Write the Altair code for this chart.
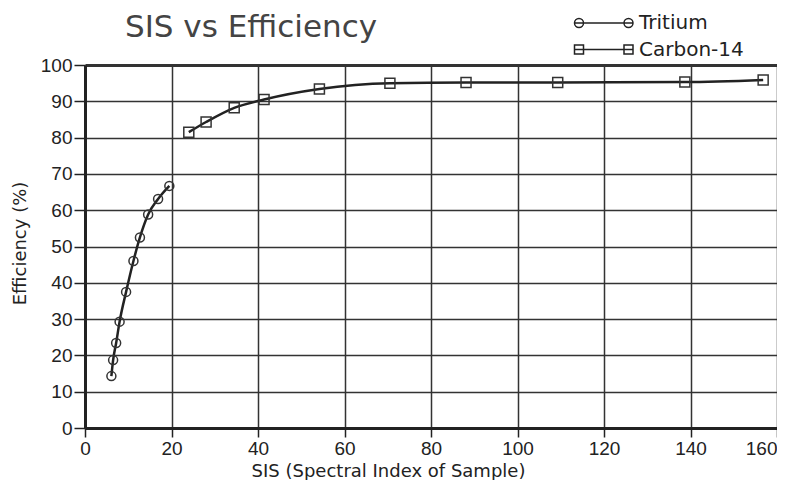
import altair as alt
import pandas as pd

# --- data ---
tritium_sis = [6.1, 6.5, 7.2, 8.0, 9.5, 11.2, 12.7, 14.6, 16.9, 19.5]
tritium_eff = [14.3, 18.7, 23.4, 29.3, 37.5, 46.0, 52.5, 58.8, 63.1, 66.7]

carbon_sis = [24.0, 28.0, 34.5, 41.4, 54.2, 70.5, 88.1, 109.3, 138.7, 156.8]
carbon_eff = [81.5, 84.3, 88.2, 90.5, 93.4, 95.0, 95.2, 95.2, 95.3, 95.9]

series_names = ["Tritium", "Carbon-14"]
x_ticks = [0, 20, 40, 60, 80, 100, 120, 140, 160]
y_ticks = [0, 10, 20, 30, 40, 50, 60, 70, 80, 90, 100]

df = pd.concat([
    pd.DataFrame({"sis": tritium_sis, "eff": tritium_eff, "series": series_names[0]}),
    pd.DataFrame({"sis": carbon_sis, "eff": carbon_eff, "series": series_names[1]}),
], ignore_index=True)

INK = "#222222"

# legend glyphs: marker - line - marker
circle_glyph = ("M1,0A1,1 0 1,1 -1,0A1,1 0 1,1 1,0Z "
                "M12,0A1,1 0 1,1 10,0A1,1 0 1,1 12,0Z M-1,0L12,0")
square_glyph = "M-1,-1H1V1H-1Z M10,-1H12V1H10Z M-1,0H12"

x_enc = alt.X(
    "sis:Q",
    scale=alt.Scale(domain=[0, 160], nice=False),
    axis=alt.Axis(
        values=x_ticks, grid=True, gridColor="#333", gridWidth=1.5,
        domainColor=INK, domainWidth=3, tickColor=INK, tickWidth=1.5, tickSize=9,
        labelFont="Liberation Sans", labelFontSize=19, labelColor=INK,
        labelPadding=2, labelFlush=False, labelOverlap=False,
        labelAlign={"condition": {"test": "datum.value === 160", "value": "right"},
                    "value": "center"},
        title="SIS (Spectral Index of Sample)", titleFont="DejaVu Sans",
        titleFontSize=18, titleFontWeight="normal", titleColor=INK,
        titleX=303, titleY=48, titleAlign="center", titleBaseline="alphabetic",
    ),
)
y_enc = alt.Y(
    "eff:Q",
    scale=alt.Scale(domain=[0, 100], nice=False),
    axis=alt.Axis(
        values=y_ticks, grid=True, gridColor="#333",
        gridWidth={"condition": {"test": "datum.value === 100", "value": 3}, "value": 1.5},
        domainColor=INK, domainWidth=3, tickColor=INK, tickWidth=1.5, tickSize=11,
        labelFont="Liberation Sans", labelFontSize=19, labelColor=INK,
        labelPadding=2, labelFlush=False, labelOverlap=False,
        title="Efficiency (%)", titleFont="DejaVu Sans", titleFontSize=18,
        titleFontWeight="normal", titleColor=INK,
        titleX=-65, titleY=178, titleAlign="center", titleBaseline="middle",
    ),
)

base = alt.Chart(df).encode(x=x_enc, y=y_enc)

lines = base.mark_line(interpolate="monotone", color=INK, strokeWidth=2.5).encode(
    detail="series:N"
)
tri_pts = base.transform_filter(alt.datum.series == "Tritium").mark_point(
    shape="circle", size=81, filled=False, color="#333", strokeWidth=1.5, opacity=1
)
car_pts = base.transform_filter(alt.datum.series == "Carbon-14").mark_point(
    shape="square", size=100, filled=False, color="#333", strokeWidth=1.5, opacity=1
)

legend_layer = alt.Chart(df).transform_filter("false").mark_point(
    filled=False, color=INK, strokeWidth=1.5, opacity=1
).encode(
    shape=alt.Shape(
        "series:N",
        scale=alt.Scale(domain=series_names, range=[circle_glyph, square_glyph]),
        legend=alt.Legend(
            title=None, orient="none", legendX=484, legendY=-52, padding=0,
            symbolSize=81, symbolStrokeWidth=1.5, symbolStrokeColor=INK,
            symbolFillColor="transparent", symbolOpacity=1,
            labelFont="DejaVu Sans", labelFontSize=20, labelColor=INK,
            labelOffset=50, rowPadding=6.5,
        ),
    )
)

chart = alt.layer(lines, tri_pts, car_pts, legend_layer).properties(
    width=692, height=363,
    padding={"left": 77, "top": 57, "right": 0, "bottom": 52},
    autosize=alt.AutoSizeParams(type="none"),
    title=alt.Title(
        "SIS vs Efficiency", anchor="start", dx=114, dy=73, fontSize=31,
        font="DejaVu Sans", fontWeight="normal", color="#444",
        baseline="alphabetic", offset=18,
    ),
).configure_view(stroke=None).configure(background="white")

chart.save("out.html", embed_options={"renderer": "svg", "actions": False})
